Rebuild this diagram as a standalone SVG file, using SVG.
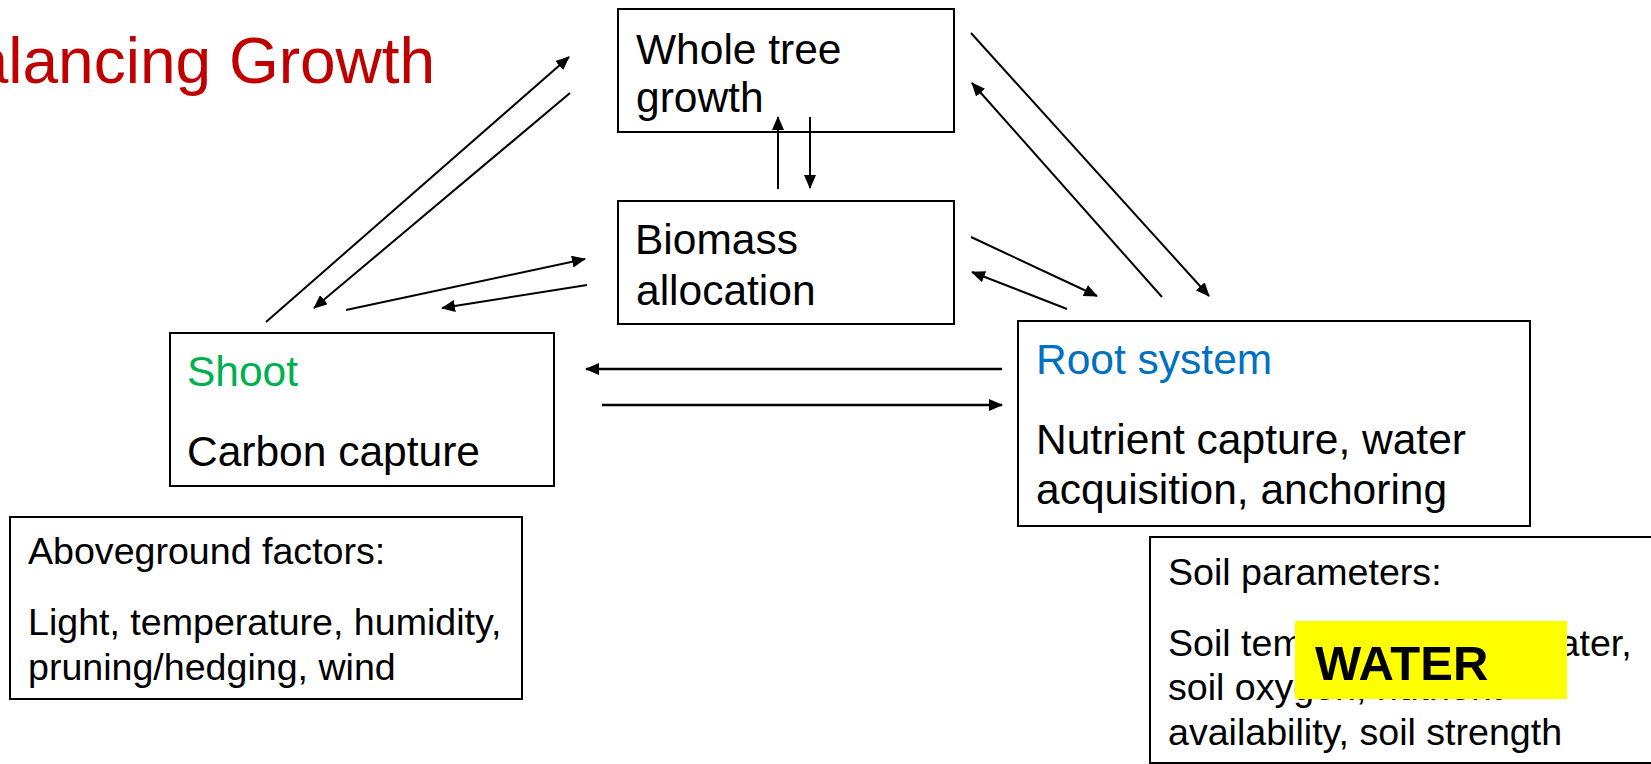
<svg xmlns="http://www.w3.org/2000/svg" width="1651" height="764" viewBox="0 0 1651 764">
<style>
.box{fill:#fff;stroke:#000;stroke-width:2}
.t{font-family:"Liberation Sans",Arial,sans-serif;font-size:42.5px;fill:#000}
.s{font-family:"Liberation Sans",Arial,sans-serif;font-size:37.6px;fill:#000}
.c{stroke:#000;stroke-width:2;fill:none;marker-end:url(#ah)}
.h{stroke-width:2.6}
</style>
<defs>
<marker id="ah" markerUnits="userSpaceOnUse" markerWidth="14" markerHeight="12" viewBox="0 0 14 12" refX="13" refY="6" orient="auto">
<path d="M0,0 L14,6 L0,12 z" fill="#000"/>
</marker>
</defs>
<rect width="1651" height="764" fill="#fff"/>
<text id="title" x="-70" y="83" font-family="Liberation Sans, Arial, sans-serif" font-size="64" fill="#C00000">Balancing Growth</text>

<g id="whole">
<rect class="box" x="618" y="9" width="336" height="123"/>
<text class="t" x="636" y="64">Whole tree</text>
<text class="t" x="636" y="112">growth</text>
</g>

<g id="biomass">
<rect class="box" x="618" y="201" width="336" height="123"/>
<text class="t" x="635" y="254">Biomass</text>
<text class="t" x="636" y="305">allocation</text>
</g>

<g id="shoot">
<rect class="box" x="170" y="333" width="384" height="153"/>
<text class="t" x="187" y="386" style="fill:#00B050">Shoot</text>
<text class="t" x="187" y="466">Carbon capture</text>
</g>

<g id="root">
<rect class="box" x="1018" y="321" width="512" height="205"/>
<text class="t" x="1036" y="374" style="fill:#0070C0">Root system</text>
<text class="t" x="1036" y="454">Nutrient capture, water</text>
<text class="t" x="1036" y="504">acquisition, anchoring</text>
</g>

<g id="aboveground">
<rect class="box" x="10" y="517" width="512" height="182"/>
<text class="s" x="28" y="564">Aboveground factors:</text>
<text class="s" x="28" y="635">Light, temperature, humidity,</text>
<text class="s" x="28" y="680">pruning/hedging, wind</text>
</g>

<g id="soil">
<rect class="box" x="1150" y="537" width="560" height="226"/>
<text class="s" x="1168" y="585">Soil parameters:</text>
<text class="s" x="1168" y="656">Soil temperature, soil water,</text>
<text class="s" x="1168" y="700">soil oxygen, nutrient</text>
<text class="s" x="1168" y="745">availability, soil strength</text>
</g>

<g id="water">
<rect x="1295" y="621" width="272" height="78" fill="#FFFF00"/>
<text x="1315" y="680" font-family="Liberation Sans, Arial, sans-serif" font-size="49" font-weight="bold" fill="#000">WATER</text>
</g>

<g id="connectors">
<line class="c" x1="266" y1="322" x2="569" y2="57"/>
<line class="c" x1="570" y1="93" x2="314" y2="308"/>
<line class="c" x1="346" y1="310" x2="585" y2="259"/>
<line class="c" x1="587" y1="285" x2="442" y2="308"/>
<line class="c" x1="778" y1="189" x2="778" y2="117"/>
<line class="c" x1="810" y1="117" x2="810" y2="188"/>
<line class="c" x1="971" y1="33" x2="1209" y2="296"/>
<line class="c" x1="1162" y1="297" x2="972" y2="83"/>
<line class="c" x1="971" y1="237" x2="1097" y2="296"/>
<line class="c" x1="1067" y1="309" x2="972" y2="272"/>
<line class="c h" x1="1002" y1="369" x2="586" y2="369"/>
<line class="c h" x1="602" y1="405" x2="1002" y2="405"/>
</g>
</svg>
